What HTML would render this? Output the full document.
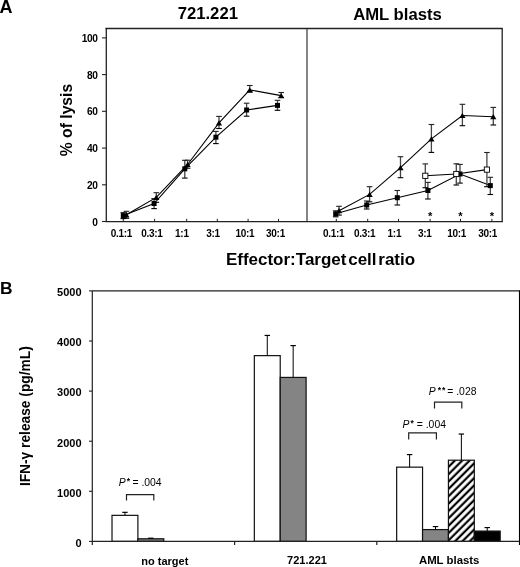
<!DOCTYPE html>
<html><head><meta charset="utf-8"><style>
html,body{margin:0;padding:0;background:#fff;}
svg{display:block;will-change:transform;}
text{font-family:"Liberation Sans",sans-serif;fill:#000;}
.tk{font-size:10.2px;font-weight:bold;letter-spacing:-0.35px;}
.tkb{font-size:11px;font-weight:bold;}
.xl{font-size:10px;font-weight:bold;letter-spacing:-0.3px;}
.st{font-size:11.2px;font-weight:bold;}
.pl{font-size:18px;font-weight:bold;}
.ttl{font-size:16.7px;font-weight:bold;}
.axl{font-size:16.4px;font-weight:bold;}
.pv{font-size:10.4px;}
.ast{font-size:8.5px;font-weight:bold;}
.cl{font-size:11px;font-weight:bold;}
.yl{font-size:13.75px;font-weight:bold;}
</style></head><body>
<svg width="520" height="567" viewBox="0 0 520 567">
<defs><pattern id="hatch" patternUnits="userSpaceOnUse" width="5.2" height="5.2" patternTransform="rotate(45)"><rect width="5.2" height="5.2" fill="#fff"/><rect x="1.4" y="0" width="2.2" height="5.2" fill="#000"/></pattern></defs>
<line x1="105.5" y1="28.5" x2="502.5" y2="28.5" stroke="#222" stroke-width="1.3"/>
<line x1="106.3" y1="28" x2="106.3" y2="222" stroke="#222" stroke-width="1.3"/>
<line x1="502.2" y1="28" x2="502.2" y2="222" stroke="#222" stroke-width="1.3"/>
<line x1="105.5" y1="221.6" x2="502.8" y2="221.6" stroke="#222" stroke-width="1.3"/>
<line x1="307" y1="29" x2="307" y2="221" stroke="#666" stroke-width="1.6"/>
<line x1="102" y1="221.5" x2="106" y2="221.5" stroke="#222" stroke-width="1.1"/>
<text x="97.6" y="225.6" class="tk" text-anchor="end">0</text>
<line x1="102" y1="184.8" x2="106" y2="184.8" stroke="#222" stroke-width="1.1"/>
<text x="97.6" y="188.9" class="tk" text-anchor="end">20</text>
<line x1="102" y1="148.1" x2="106" y2="148.1" stroke="#222" stroke-width="1.1"/>
<text x="97.6" y="152.2" class="tk" text-anchor="end">40</text>
<line x1="102" y1="111.3" x2="106" y2="111.3" stroke="#222" stroke-width="1.1"/>
<text x="97.6" y="115.4" class="tk" text-anchor="end">60</text>
<line x1="102" y1="74.6" x2="106" y2="74.6" stroke="#222" stroke-width="1.1"/>
<text x="97.6" y="78.7" class="tk" text-anchor="end">80</text>
<line x1="102" y1="37.9" x2="106" y2="37.9" stroke="#222" stroke-width="1.1"/>
<text x="97.6" y="42.0" class="tk" text-anchor="end">100</text>
<line x1="123.3" y1="218.8" x2="123.3" y2="221.5" stroke="#222" stroke-width="1"/>
<line x1="154.6" y1="218.8" x2="154.6" y2="221.5" stroke="#222" stroke-width="1"/>
<line x1="186.7" y1="218.8" x2="186.7" y2="221.5" stroke="#222" stroke-width="1"/>
<line x1="217.3" y1="218.8" x2="217.3" y2="221.5" stroke="#222" stroke-width="1"/>
<line x1="248.1" y1="218.8" x2="248.1" y2="221.5" stroke="#222" stroke-width="1"/>
<line x1="278.5" y1="218.8" x2="278.5" y2="221.5" stroke="#222" stroke-width="1"/>
<line x1="336.3" y1="218.8" x2="336.3" y2="221.5" stroke="#222" stroke-width="1"/>
<line x1="367.7" y1="218.8" x2="367.7" y2="221.5" stroke="#222" stroke-width="1"/>
<line x1="398.5" y1="218.8" x2="398.5" y2="221.5" stroke="#222" stroke-width="1"/>
<line x1="430.1" y1="218.8" x2="430.1" y2="221.5" stroke="#222" stroke-width="1"/>
<line x1="460.5" y1="218.8" x2="460.5" y2="221.5" stroke="#222" stroke-width="1"/>
<line x1="491.9" y1="218.8" x2="491.9" y2="221.5" stroke="#222" stroke-width="1"/>
<text x="121.3" y="237" class="xl" text-anchor="middle">0.1:1</text>
<text x="151.9" y="237" class="xl" text-anchor="middle">0.3:1</text>
<text x="181.9" y="237" class="xl" text-anchor="middle">1:1</text>
<text x="213" y="237" class="xl" text-anchor="middle">3:1</text>
<text x="244.9" y="237" class="xl" text-anchor="middle">10:1</text>
<text x="275.5" y="237" class="xl" text-anchor="middle">30:1</text>
<text x="333.7" y="237" class="xl" text-anchor="middle">0.1:1</text>
<text x="364.6" y="237" class="xl" text-anchor="middle">0.3:1</text>
<text x="394.4" y="237" class="xl" text-anchor="middle">1:1</text>
<text x="424.8" y="237" class="xl" text-anchor="middle">3:1</text>
<text x="456.6" y="237" class="xl" text-anchor="middle">10:1</text>
<text x="487.6" y="237" class="xl" text-anchor="middle">30:1</text>
<text x="430.1" y="220.3" class="st" text-anchor="middle">*</text>
<text x="460.5" y="220.3" class="st" text-anchor="middle">*</text>
<text x="491.9" y="220.3" class="st" text-anchor="middle">*</text>
<line x1="123.3" y1="212.6" x2="123.3" y2="218.6" stroke="#444" stroke-width="1.3"/><line x1="120.5" y1="212.6" x2="126.1" y2="212.6" stroke="#222" stroke-width="1.1"/><line x1="120.5" y1="218.6" x2="126.1" y2="218.6" stroke="#000" stroke-width="1.1"/>
<line x1="154.1" y1="198.6" x2="154.1" y2="208.6" stroke="#444" stroke-width="1.3"/><line x1="151.3" y1="198.6" x2="156.9" y2="198.6" stroke="#222" stroke-width="1.1"/><line x1="151.3" y1="208.6" x2="156.9" y2="208.6" stroke="#000" stroke-width="1.1"/>
<line x1="184.8" y1="160.3" x2="184.8" y2="178.1" stroke="#444" stroke-width="1.3"/><line x1="182.0" y1="160.3" x2="187.6" y2="160.3" stroke="#222" stroke-width="1.1"/><line x1="182.0" y1="178.1" x2="187.6" y2="178.1" stroke="#000" stroke-width="1.1"/>
<line x1="215.9" y1="131.4" x2="215.9" y2="143.6" stroke="#444" stroke-width="1.3"/><line x1="213.1" y1="131.4" x2="218.7" y2="131.4" stroke="#222" stroke-width="1.1"/><line x1="213.1" y1="143.6" x2="218.7" y2="143.6" stroke="#000" stroke-width="1.1"/>
<line x1="246.6" y1="103.2" x2="246.6" y2="116.2" stroke="#444" stroke-width="1.3"/><line x1="243.8" y1="103.2" x2="249.4" y2="103.2" stroke="#222" stroke-width="1.1"/><line x1="243.8" y1="116.2" x2="249.4" y2="116.2" stroke="#000" stroke-width="1.1"/>
<line x1="277.5" y1="100.3" x2="277.5" y2="110.3" stroke="#444" stroke-width="1.3"/><line x1="274.7" y1="100.3" x2="280.3" y2="100.3" stroke="#222" stroke-width="1.1"/><line x1="274.7" y1="110.3" x2="280.3" y2="110.3" stroke="#000" stroke-width="1.1"/>
<polyline fill="none" stroke="#000" stroke-width="1.1" points="123.3,215.6 154.1,203.5 184.8,168.8 215.9,137.2 246.6,110 277.5,105.4"/>
<rect x="120.80" y="213.10" width="5" height="5" fill="#000" stroke="#000" stroke-width="0"/>
<rect x="151.60" y="201.00" width="5" height="5" fill="#000" stroke="#000" stroke-width="0"/>
<rect x="182.30" y="166.30" width="5" height="5" fill="#000" stroke="#000" stroke-width="0"/>
<rect x="213.40" y="134.70" width="5" height="5" fill="#000" stroke="#000" stroke-width="0"/>
<rect x="244.10" y="107.50" width="5" height="5" fill="#000" stroke="#000" stroke-width="0"/>
<rect x="275.00" y="102.90" width="5" height="5" fill="#000" stroke="#000" stroke-width="0"/>
<line x1="126.4" y1="211.3" x2="126.4" y2="218.3" stroke="#444" stroke-width="1.3"/><line x1="123.6" y1="211.3" x2="129.2" y2="211.3" stroke="#222" stroke-width="1.1"/><line x1="123.6" y1="218.3" x2="129.2" y2="218.3" stroke="#000" stroke-width="1.1"/>
<line x1="156.3" y1="192.7" x2="156.3" y2="202.3" stroke="#444" stroke-width="1.3"/><line x1="153.5" y1="192.7" x2="159.1" y2="192.7" stroke="#222" stroke-width="1.1"/><line x1="153.5" y1="202.3" x2="159.1" y2="202.3" stroke="#000" stroke-width="1.1"/>
<line x1="187.6" y1="160.2" x2="187.6" y2="168.2" stroke="#444" stroke-width="1.3"/><line x1="184.8" y1="160.2" x2="190.4" y2="160.2" stroke="#222" stroke-width="1.1"/><line x1="184.8" y1="168.2" x2="190.4" y2="168.2" stroke="#000" stroke-width="1.1"/>
<line x1="219" y1="116.4" x2="219" y2="128.5" stroke="#444" stroke-width="1.3"/><line x1="216.2" y1="116.4" x2="221.8" y2="116.4" stroke="#222" stroke-width="1.1"/><line x1="216.2" y1="128.5" x2="221.8" y2="128.5" stroke="#000" stroke-width="1.1"/>
<line x1="249.75" y1="85.5" x2="249.75" y2="92" stroke="#444" stroke-width="1.3"/><line x1="246.9" y1="85.5" x2="252.6" y2="85.5" stroke="#222" stroke-width="1.1"/><line x1="246.9" y1="92" x2="252.6" y2="92" stroke="#000" stroke-width="1.1"/>
<line x1="281.2" y1="92.5" x2="281.2" y2="97.5" stroke="#444" stroke-width="1.3"/><line x1="278.4" y1="92.5" x2="284.0" y2="92.5" stroke="#222" stroke-width="1.1"/><line x1="278.4" y1="97.5" x2="284.0" y2="97.5" stroke="#000" stroke-width="1.1"/>
<polyline fill="none" stroke="#000" stroke-width="1.1" points="126.4,214.8 156.3,197.4 187.6,164.5 219,122.8 249.75,89.9 281.2,95.6"/>
<polygon points="123.30,217.40 129.50,217.40 126.40,212.20" fill="#000"/>
<polygon points="153.20,200.00 159.40,200.00 156.30,194.80" fill="#000"/>
<polygon points="184.50,167.10 190.70,167.10 187.60,161.90" fill="#000"/>
<polygon points="215.90,125.40 222.10,125.40 219.00,120.20" fill="#000"/>
<polygon points="246.65,92.50 252.85,92.50 249.75,87.30" fill="#000"/>
<polygon points="278.10,98.20 284.30,98.20 281.20,93.00" fill="#000"/>
<line x1="335.7" y1="210.8" x2="335.7" y2="216.8" stroke="#444" stroke-width="1.3"/><line x1="332.9" y1="210.8" x2="338.5" y2="210.8" stroke="#222" stroke-width="1.1"/><line x1="332.9" y1="216.8" x2="338.5" y2="216.8" stroke="#000" stroke-width="1.1"/>
<line x1="366.7" y1="201" x2="366.7" y2="209" stroke="#444" stroke-width="1.3"/><line x1="363.9" y1="201" x2="369.5" y2="201" stroke="#222" stroke-width="1.1"/><line x1="363.9" y1="209" x2="369.5" y2="209" stroke="#000" stroke-width="1.1"/>
<line x1="397.3" y1="190.5" x2="397.3" y2="205" stroke="#444" stroke-width="1.3"/><line x1="394.5" y1="190.5" x2="400.1" y2="190.5" stroke="#222" stroke-width="1.1"/><line x1="394.5" y1="205" x2="400.1" y2="205" stroke="#000" stroke-width="1.1"/>
<line x1="427.9" y1="182.4" x2="427.9" y2="199" stroke="#444" stroke-width="1.3"/><line x1="425.1" y1="182.4" x2="430.7" y2="182.4" stroke="#222" stroke-width="1.1"/><line x1="425.1" y1="199" x2="430.7" y2="199" stroke="#000" stroke-width="1.1"/>
<line x1="460" y1="164.4" x2="460" y2="183.1" stroke="#444" stroke-width="1.3"/><line x1="457.2" y1="164.4" x2="462.8" y2="164.4" stroke="#222" stroke-width="1.1"/><line x1="457.2" y1="183.1" x2="462.8" y2="183.1" stroke="#000" stroke-width="1.1"/>
<line x1="490.3" y1="177.3" x2="490.3" y2="194.5" stroke="#444" stroke-width="1.3"/><line x1="487.5" y1="177.3" x2="493.1" y2="177.3" stroke="#222" stroke-width="1.1"/><line x1="487.5" y1="194.5" x2="493.1" y2="194.5" stroke="#000" stroke-width="1.1"/>
<polyline fill="none" stroke="#000" stroke-width="1.1" points="335.7,213.8 366.7,205 397.3,197.7 427.9,190.5 460,174 490.3,185.6"/>
<rect x="333.20" y="211.30" width="5" height="5" fill="#000" stroke="#000" stroke-width="0"/>
<rect x="364.20" y="202.50" width="5" height="5" fill="#000" stroke="#000" stroke-width="0"/>
<rect x="394.80" y="195.20" width="5" height="5" fill="#000" stroke="#000" stroke-width="0"/>
<rect x="425.40" y="188.00" width="5" height="5" fill="#000" stroke="#000" stroke-width="0"/>
<rect x="457.50" y="171.50" width="5" height="5" fill="#000" stroke="#000" stroke-width="0"/>
<rect x="487.80" y="183.10" width="5" height="5" fill="#000" stroke="#000" stroke-width="0"/>
<line x1="339" y1="206.3" x2="339" y2="215.1" stroke="#444" stroke-width="1.3"/><line x1="336.2" y1="206.3" x2="341.8" y2="206.3" stroke="#222" stroke-width="1.1"/><line x1="336.2" y1="215.1" x2="341.8" y2="215.1" stroke="#000" stroke-width="1.1"/>
<line x1="369.6" y1="186.7" x2="369.6" y2="201.8" stroke="#444" stroke-width="1.3"/><line x1="366.8" y1="186.7" x2="372.4" y2="186.7" stroke="#222" stroke-width="1.1"/><line x1="366.8" y1="201.8" x2="372.4" y2="201.8" stroke="#000" stroke-width="1.1"/>
<line x1="400.5" y1="156.7" x2="400.5" y2="177.7" stroke="#444" stroke-width="1.3"/><line x1="397.7" y1="156.7" x2="403.3" y2="156.7" stroke="#222" stroke-width="1.1"/><line x1="397.7" y1="177.7" x2="403.3" y2="177.7" stroke="#000" stroke-width="1.1"/>
<line x1="431.4" y1="124.5" x2="431.4" y2="152.4" stroke="#444" stroke-width="1.3"/><line x1="428.6" y1="124.5" x2="434.2" y2="124.5" stroke="#222" stroke-width="1.1"/><line x1="428.6" y1="152.4" x2="434.2" y2="152.4" stroke="#000" stroke-width="1.1"/>
<line x1="462.4" y1="104.3" x2="462.4" y2="125.7" stroke="#444" stroke-width="1.3"/><line x1="459.6" y1="104.3" x2="465.2" y2="104.3" stroke="#222" stroke-width="1.1"/><line x1="459.6" y1="125.7" x2="465.2" y2="125.7" stroke="#000" stroke-width="1.1"/>
<line x1="493.3" y1="107.4" x2="493.3" y2="125" stroke="#444" stroke-width="1.3"/><line x1="490.5" y1="107.4" x2="496.1" y2="107.4" stroke="#222" stroke-width="1.1"/><line x1="490.5" y1="125" x2="496.1" y2="125" stroke="#000" stroke-width="1.1"/>
<polyline fill="none" stroke="#000" stroke-width="1.1" points="339,210.7 369.6,194.4 400.5,167.7 431.4,138.8 462.4,115.5 493.3,116.7"/>
<polygon points="335.90,213.30 342.10,213.30 339.00,208.10" fill="#000"/>
<polygon points="366.50,197.00 372.70,197.00 369.60,191.80" fill="#000"/>
<polygon points="397.40,170.30 403.60,170.30 400.50,165.10" fill="#000"/>
<polygon points="428.30,141.40 434.50,141.40 431.40,136.20" fill="#000"/>
<polygon points="459.30,118.10 465.50,118.10 462.40,112.90" fill="#000"/>
<polygon points="490.20,119.30 496.40,119.30 493.30,114.10" fill="#000"/>
<line x1="425.3" y1="163.9" x2="425.3" y2="187.7" stroke="#444" stroke-width="1.3"/><line x1="422.5" y1="163.9" x2="428.1" y2="163.9" stroke="#222" stroke-width="1.1"/><line x1="422.5" y1="187.7" x2="428.1" y2="187.7" stroke="#000" stroke-width="1.1"/>
<line x1="456.3" y1="163.8" x2="456.3" y2="185" stroke="#444" stroke-width="1.3"/><line x1="453.5" y1="163.8" x2="459.1" y2="163.8" stroke="#222" stroke-width="1.1"/><line x1="453.5" y1="185" x2="459.1" y2="185" stroke="#000" stroke-width="1.1"/>
<line x1="486.9" y1="152.5" x2="486.9" y2="186.7" stroke="#444" stroke-width="1.3"/><line x1="484.1" y1="152.5" x2="489.7" y2="152.5" stroke="#222" stroke-width="1.1"/><line x1="484.1" y1="186.7" x2="489.7" y2="186.7" stroke="#000" stroke-width="1.1"/>
<polyline fill="none" stroke="#000" stroke-width="1.1" points="425.3,175.8 456.3,174 486.9,169.6"/>
<rect x="422.70" y="173.20" width="5.2" height="5.2" fill="#fff" stroke="#000" stroke-width="0.9"/>
<rect x="453.70" y="171.40" width="5.2" height="5.2" fill="#fff" stroke="#000" stroke-width="0.9"/>
<rect x="484.30" y="167.00" width="5.2" height="5.2" fill="#fff" stroke="#000" stroke-width="0.9"/>
<text x="-0.6" y="12.9" class="pl">A</text>
<text x="207.8" y="19.4" class="ttl" text-anchor="middle">721.221</text>
<text x="397.5" y="19.5" class="ttl" text-anchor="middle">AML blasts</text>
<text x="320.5" y="264.7" class="axl" style="font-size:17px;word-spacing:-3px" text-anchor="middle">Effector:Target cell ratio</text>
<text transform="translate(72,120) rotate(-90)" class="axl" style="font-size:15.7px" text-anchor="middle">% of lysis</text>
<text x="-0.1" y="293.5" class="pl" style="font-size:17.4px">B</text>
<line x1="92.3" y1="290.9" x2="519.5" y2="290.9" stroke="#222" stroke-width="1.3"/>
<line x1="92.3" y1="290.5" x2="92.3" y2="545" stroke="#222" stroke-width="1.2"/>
<line x1="519.5" y1="290.3" x2="519.5" y2="545" stroke="#000" stroke-width="1.1"/>
<line x1="89" y1="541.4" x2="92.3" y2="541.4" stroke="#222" stroke-width="1.1"/>
<text x="81.6" y="546.7" class="tkb" text-anchor="end">0</text>
<line x1="89" y1="491.3" x2="92.3" y2="491.3" stroke="#222" stroke-width="1.1"/>
<text x="81.6" y="496.6" class="tkb" text-anchor="end">1000</text>
<line x1="89" y1="441.2" x2="92.3" y2="441.2" stroke="#222" stroke-width="1.1"/>
<text x="81.6" y="446.5" class="tkb" text-anchor="end">2000</text>
<line x1="89" y1="391.1" x2="92.3" y2="391.1" stroke="#222" stroke-width="1.1"/>
<text x="81.6" y="396.4" class="tkb" text-anchor="end">3000</text>
<line x1="89" y1="341.0" x2="92.3" y2="341.0" stroke="#222" stroke-width="1.1"/>
<text x="81.6" y="346.3" class="tkb" text-anchor="end">4000</text>
<line x1="89" y1="290.9" x2="92.3" y2="290.9" stroke="#222" stroke-width="1.1"/>
<text x="81.6" y="296.2" class="tkb" text-anchor="end">5000</text>
<line x1="234.6" y1="541.4" x2="234.6" y2="545" stroke="#222" stroke-width="1.2"/>
<line x1="376.8" y1="541.4" x2="376.8" y2="545" stroke="#222" stroke-width="1.2"/>
<rect x="112.01" y="515.35" width="25.88" height="26.05" fill="#fff" stroke="#111" stroke-width="1.2"/><line x1="124.95" y1="512.34" x2="124.95" y2="515.35" stroke="#000" stroke-width="1"/><line x1="122.25" y1="512.34" x2="127.65" y2="512.34" stroke="#000" stroke-width="1.2"/>
<rect x="137.89" y="538.79" width="25.88" height="2.61" fill="#848484" stroke="#111" stroke-width="1.2"/><line x1="150.83" y1="538.19" x2="150.83" y2="538.79" stroke="#000" stroke-width="1"/><line x1="148.13" y1="538.19" x2="153.53" y2="538.19" stroke="#000" stroke-width="1.2"/>
<rect x="254.34" y="355.63" width="25.88" height="185.77" fill="#fff" stroke="#111" stroke-width="1.2"/><line x1="267.28" y1="335.44" x2="267.28" y2="355.63" stroke="#000" stroke-width="1"/><line x1="264.58" y1="335.44" x2="269.98" y2="335.44" stroke="#000" stroke-width="1.2"/>
<rect x="280.22" y="377.42" width="25.88" height="163.98" fill="#848484" stroke="#111" stroke-width="1.2"/><line x1="293.16" y1="345.61" x2="293.16" y2="377.42" stroke="#000" stroke-width="1"/><line x1="290.46" y1="345.61" x2="295.86" y2="345.61" stroke="#000" stroke-width="1.2"/>
<rect x="396.67" y="467.15" width="25.88" height="74.25" fill="#fff" stroke="#111" stroke-width="1.2"/><line x1="409.61" y1="454.58" x2="409.61" y2="467.15" stroke="#000" stroke-width="1"/><line x1="406.91" y1="454.58" x2="412.31" y2="454.58" stroke="#000" stroke-width="1.2"/>
<rect x="422.55" y="529.58" width="25.88" height="11.82" fill="#848484" stroke="#111" stroke-width="1.2"/><line x1="435.49" y1="526.57" x2="435.49" y2="529.58" stroke="#000" stroke-width="1"/><line x1="432.79" y1="526.57" x2="438.19" y2="526.57" stroke="#000" stroke-width="1.2"/>
<rect x="448.43" y="460.19" width="25.88" height="81.21" fill="url(#hatch)" stroke="#111" stroke-width="1.2"/><line x1="461.36" y1="434.04" x2="461.36" y2="460.19" stroke="#000" stroke-width="1"/><line x1="458.66" y1="434.04" x2="464.06" y2="434.04" stroke="#000" stroke-width="1.2"/>
<rect x="474.30" y="531.08" width="25.88" height="10.32" fill="#000" stroke="#111" stroke-width="1.2"/><line x1="487.24" y1="527.57" x2="487.24" y2="531.08" stroke="#000" stroke-width="1"/><line x1="484.54" y1="527.57" x2="489.94" y2="527.57" stroke="#000" stroke-width="1.2"/>
<line x1="92.3" y1="541.4" x2="519.5" y2="541.4" stroke="#222" stroke-width="1.3"/>
<polyline fill="none" stroke="#222" stroke-width="1.2" points="126.5,500.5 126.5,494.6 153.8,494.6 153.8,500.5"/>
<polyline fill="none" stroke="#222" stroke-width="1.2" points="408.7,439.4 408.7,432.8 436.4,432.8 436.4,439.4"/>
<polyline fill="none" stroke="#222" stroke-width="1.2" points="434.5,408.6 434.5,402.2 461.8,402.2 461.8,408.6"/>
<text x="118.8" y="486.1" class="pv" font-style="italic">P</text><text x="128.50" y="484.10" class="ast" text-anchor="middle">*</text><text x="132.48" y="486.1" class="pv">= .004</text>
<text x="402.6" y="428.0" class="pv" font-style="italic">P</text><text x="412.10" y="426.00" class="ast" text-anchor="middle">*</text><text x="416.78" y="428.0" class="pv">= .004</text>
<text x="428.8" y="394.9" class="pv" font-style="italic">P</text><text x="439.50" y="392.90" class="ast" text-anchor="middle">*</text><text x="443.70" y="392.90" class="ast" text-anchor="middle">*</text><text x="447.28" y="394.9" class="pv">= .028</text>
<text x="164.8" y="564.5" class="cl" text-anchor="middle">no target</text>
<text x="307" y="564" class="cl" text-anchor="middle">721.221</text>
<text x="449.2" y="564.4" class="cl" style="font-size:11.4px" text-anchor="middle">AML blasts</text>
<text transform="translate(29.5,416.2) rotate(-90)" class="yl" text-anchor="middle">IFN-&#947; release (pg/mL)</text>
</svg>
</body></html>
